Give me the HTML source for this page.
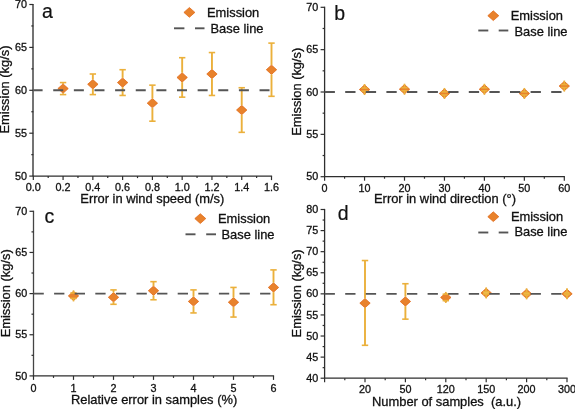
<!DOCTYPE html>
<html><head><meta charset="utf-8"><style>
html,body{margin:0;padding:0;background:#fff;width:575px;height:409px;overflow:hidden}
svg{display:block;font-family:"Liberation Sans", sans-serif;filter:blur(0.3px)}
text{fill:#111;stroke:#111;stroke-width:0.3px}
</style></head><body>
<svg width="575" height="409" viewBox="0 0 575 409">
<rect width="575" height="409" fill="#fff"/>
<line x1="33.00" y1="176.10" x2="33.00" y2="3.90" stroke="#444" stroke-width="1.5"/>
<line x1="32.70" y1="176.10" x2="272.10" y2="176.10" stroke="#2e2e2e" stroke-width="1.3"/>
<line x1="29.30" y1="176.10" x2="33.30" y2="176.10" stroke="#2e2e2e" stroke-width="1.2"/>
<text x="27.00" y="179.70" text-anchor="end" font-size="10.8">50</text>
<line x1="29.30" y1="133.20" x2="33.30" y2="133.20" stroke="#2e2e2e" stroke-width="1.2"/>
<text x="27.00" y="136.80" text-anchor="end" font-size="10.8">55</text>
<line x1="29.30" y1="90.30" x2="33.30" y2="90.30" stroke="#2e2e2e" stroke-width="1.2"/>
<text x="27.00" y="93.90" text-anchor="end" font-size="10.8">60</text>
<line x1="29.30" y1="47.40" x2="33.30" y2="47.40" stroke="#2e2e2e" stroke-width="1.2"/>
<text x="27.00" y="51.00" text-anchor="end" font-size="10.8">65</text>
<line x1="29.30" y1="4.50" x2="33.30" y2="4.50" stroke="#2e2e2e" stroke-width="1.2"/>
<text x="27.00" y="8.10" text-anchor="end" font-size="10.8">70</text>
<line x1="31.30" y1="154.65" x2="33.30" y2="154.65" stroke="#2e2e2e" stroke-width="1.2"/>
<line x1="31.30" y1="111.75" x2="33.30" y2="111.75" stroke="#2e2e2e" stroke-width="1.2"/>
<line x1="31.30" y1="68.85" x2="33.30" y2="68.85" stroke="#2e2e2e" stroke-width="1.2"/>
<line x1="31.30" y1="25.95" x2="33.30" y2="25.95" stroke="#2e2e2e" stroke-width="1.2"/>
<line x1="33.30" y1="176.10" x2="33.30" y2="180.10" stroke="#2e2e2e" stroke-width="1.2"/>
<text x="33.30" y="191.40" text-anchor="middle" font-size="10.8">0.0</text>
<line x1="63.07" y1="176.10" x2="63.07" y2="180.10" stroke="#2e2e2e" stroke-width="1.2"/>
<text x="63.07" y="191.40" text-anchor="middle" font-size="10.8">0.2</text>
<line x1="92.85" y1="176.10" x2="92.85" y2="180.10" stroke="#2e2e2e" stroke-width="1.2"/>
<text x="92.85" y="191.40" text-anchor="middle" font-size="10.8">0.4</text>
<line x1="122.62" y1="176.10" x2="122.62" y2="180.10" stroke="#2e2e2e" stroke-width="1.2"/>
<text x="122.62" y="191.40" text-anchor="middle" font-size="10.8">0.6</text>
<line x1="152.40" y1="176.10" x2="152.40" y2="180.10" stroke="#2e2e2e" stroke-width="1.2"/>
<text x="152.40" y="191.40" text-anchor="middle" font-size="10.8">0.8</text>
<line x1="182.17" y1="176.10" x2="182.17" y2="180.10" stroke="#2e2e2e" stroke-width="1.2"/>
<text x="182.17" y="191.40" text-anchor="middle" font-size="10.8">1.0</text>
<line x1="211.95" y1="176.10" x2="211.95" y2="180.10" stroke="#2e2e2e" stroke-width="1.2"/>
<text x="211.95" y="191.40" text-anchor="middle" font-size="10.8">1.2</text>
<line x1="241.73" y1="176.10" x2="241.73" y2="180.10" stroke="#2e2e2e" stroke-width="1.2"/>
<text x="241.73" y="191.40" text-anchor="middle" font-size="10.8">1.4</text>
<line x1="271.50" y1="176.10" x2="271.50" y2="180.10" stroke="#2e2e2e" stroke-width="1.2"/>
<text x="271.50" y="191.40" text-anchor="middle" font-size="10.8">1.6</text>
<line x1="48.19" y1="176.10" x2="48.19" y2="178.10" stroke="#2e2e2e" stroke-width="1.2"/>
<line x1="77.96" y1="176.10" x2="77.96" y2="178.10" stroke="#2e2e2e" stroke-width="1.2"/>
<line x1="107.74" y1="176.10" x2="107.74" y2="178.10" stroke="#2e2e2e" stroke-width="1.2"/>
<line x1="137.51" y1="176.10" x2="137.51" y2="178.10" stroke="#2e2e2e" stroke-width="1.2"/>
<line x1="167.29" y1="176.10" x2="167.29" y2="178.10" stroke="#2e2e2e" stroke-width="1.2"/>
<line x1="197.06" y1="176.10" x2="197.06" y2="178.10" stroke="#2e2e2e" stroke-width="1.2"/>
<line x1="226.84" y1="176.10" x2="226.84" y2="178.10" stroke="#2e2e2e" stroke-width="1.2"/>
<line x1="256.61" y1="176.10" x2="256.61" y2="178.10" stroke="#2e2e2e" stroke-width="1.2"/>
<path d="M63.07 83.88 L68.27 88.58 L63.07 93.28 L57.87 88.58Z" fill="#e8822c" stroke="#df620e" stroke-width="0.7"/>
<line x1="63.07" y1="82.58" x2="63.07" y2="83.88" stroke="#ebb03b" stroke-width="1.9"/>
<line x1="63.07" y1="93.28" x2="63.07" y2="94.59" stroke="#ebb03b" stroke-width="1.9"/>
<line x1="59.87" y1="82.58" x2="66.27" y2="82.58" stroke="#ebb03b" stroke-width="1.6"/>
<line x1="59.87" y1="94.59" x2="66.27" y2="94.59" stroke="#ebb03b" stroke-width="1.6"/>
<path d="M92.85 79.59 L98.05 84.29 L92.85 88.99 L87.65 84.29Z" fill="#e8822c" stroke="#df620e" stroke-width="0.7"/>
<line x1="92.85" y1="74.00" x2="92.85" y2="79.59" stroke="#ebb03b" stroke-width="1.9"/>
<line x1="92.85" y1="88.99" x2="92.85" y2="94.59" stroke="#ebb03b" stroke-width="1.9"/>
<line x1="89.65" y1="74.00" x2="96.05" y2="74.00" stroke="#ebb03b" stroke-width="1.6"/>
<line x1="89.65" y1="94.59" x2="96.05" y2="94.59" stroke="#ebb03b" stroke-width="1.6"/>
<path d="M122.62 77.88 L127.82 82.58 L122.62 87.28 L117.42 82.58Z" fill="#e8822c" stroke="#df620e" stroke-width="0.7"/>
<line x1="122.62" y1="69.71" x2="122.62" y2="77.88" stroke="#ebb03b" stroke-width="1.9"/>
<line x1="122.62" y1="87.28" x2="122.62" y2="95.45" stroke="#ebb03b" stroke-width="1.9"/>
<line x1="119.42" y1="69.71" x2="125.82" y2="69.71" stroke="#ebb03b" stroke-width="1.6"/>
<line x1="119.42" y1="95.45" x2="125.82" y2="95.45" stroke="#ebb03b" stroke-width="1.6"/>
<path d="M152.40 98.47 L157.60 103.17 L152.40 107.87 L147.20 103.17Z" fill="#e8822c" stroke="#df620e" stroke-width="0.7"/>
<line x1="152.40" y1="85.15" x2="152.40" y2="98.47" stroke="#ebb03b" stroke-width="1.9"/>
<line x1="152.40" y1="107.87" x2="152.40" y2="121.19" stroke="#ebb03b" stroke-width="1.9"/>
<line x1="149.20" y1="85.15" x2="155.60" y2="85.15" stroke="#ebb03b" stroke-width="1.6"/>
<line x1="149.20" y1="121.19" x2="155.60" y2="121.19" stroke="#ebb03b" stroke-width="1.6"/>
<path d="M182.17 72.73 L187.37 77.43 L182.17 82.13 L176.97 77.43Z" fill="#e8822c" stroke="#df620e" stroke-width="0.7"/>
<line x1="182.17" y1="57.70" x2="182.17" y2="72.73" stroke="#ebb03b" stroke-width="1.9"/>
<line x1="182.17" y1="82.13" x2="182.17" y2="97.16" stroke="#ebb03b" stroke-width="1.9"/>
<line x1="178.97" y1="57.70" x2="185.37" y2="57.70" stroke="#ebb03b" stroke-width="1.6"/>
<line x1="178.97" y1="97.16" x2="185.37" y2="97.16" stroke="#ebb03b" stroke-width="1.6"/>
<path d="M211.95 69.30 L217.15 74.00 L211.95 78.70 L206.75 74.00Z" fill="#e8822c" stroke="#df620e" stroke-width="0.7"/>
<line x1="211.95" y1="52.55" x2="211.95" y2="69.30" stroke="#ebb03b" stroke-width="1.9"/>
<line x1="211.95" y1="78.70" x2="211.95" y2="95.45" stroke="#ebb03b" stroke-width="1.9"/>
<line x1="208.75" y1="52.55" x2="215.15" y2="52.55" stroke="#ebb03b" stroke-width="1.6"/>
<line x1="208.75" y1="95.45" x2="215.15" y2="95.45" stroke="#ebb03b" stroke-width="1.6"/>
<path d="M241.72 105.33 L246.92 110.03 L241.72 114.73 L236.52 110.03Z" fill="#e8822c" stroke="#df620e" stroke-width="0.7"/>
<line x1="241.72" y1="87.73" x2="241.72" y2="105.33" stroke="#ebb03b" stroke-width="1.9"/>
<line x1="241.72" y1="114.73" x2="241.72" y2="132.34" stroke="#ebb03b" stroke-width="1.9"/>
<line x1="238.52" y1="87.73" x2="244.92" y2="87.73" stroke="#ebb03b" stroke-width="1.6"/>
<line x1="238.52" y1="132.34" x2="244.92" y2="132.34" stroke="#ebb03b" stroke-width="1.6"/>
<path d="M271.50 65.01 L276.70 69.71 L271.50 74.41 L266.30 69.71Z" fill="#e8822c" stroke="#df620e" stroke-width="0.7"/>
<line x1="271.50" y1="43.11" x2="271.50" y2="65.01" stroke="#ebb03b" stroke-width="1.9"/>
<line x1="271.50" y1="74.41" x2="271.50" y2="96.31" stroke="#ebb03b" stroke-width="1.9"/>
<line x1="268.30" y1="43.11" x2="274.70" y2="43.11" stroke="#ebb03b" stroke-width="1.6"/>
<line x1="268.30" y1="96.31" x2="274.70" y2="96.31" stroke="#ebb03b" stroke-width="1.6"/>
<line x1="33.30" y1="90.30" x2="271.50" y2="90.30" stroke="#555555" stroke-width="1.9" stroke-dasharray="10 10.63" stroke-dashoffset="0.7"/>
<text x="42.0" y="18.3" font-size="19.5" style="stroke-width:0.2px">a</text>
<path d="M189.40 7.50 L194.90 12.40 L189.40 17.30 L183.90 12.40Z" fill="#e8822c" stroke="#df620e" stroke-width="0.7"/>
<text x="207.0" y="17.3" font-size="12.9">Emission</text>
<line x1="174" y1="28.3" x2="184.4" y2="28.3" stroke="#555555" stroke-width="1.9"/>
<line x1="195" y1="28.3" x2="204.5" y2="28.3" stroke="#555555" stroke-width="1.9"/>
<text x="210.5" y="32.7" font-size="12.9">Base line</text>
<text transform="translate(9.1,89.5) rotate(-90)" text-anchor="middle" font-size="12.9">Emission (kg/s)</text>
<text x="80.3" y="202.9" font-size="12.9" xml:space="preserve">Error in wind speed (m/s)</text>
<line x1="324.60" y1="176.70" x2="324.60" y2="6.70" stroke="#2e2e2e" stroke-width="1.3"/>
<line x1="324.00" y1="176.70" x2="564.90" y2="176.70" stroke="#2e2e2e" stroke-width="1.3"/>
<line x1="320.60" y1="176.70" x2="324.60" y2="176.70" stroke="#2e2e2e" stroke-width="1.2"/>
<text x="318.30" y="180.30" text-anchor="end" font-size="10.8">50</text>
<line x1="320.60" y1="134.35" x2="324.60" y2="134.35" stroke="#2e2e2e" stroke-width="1.2"/>
<text x="318.30" y="137.95" text-anchor="end" font-size="10.8">55</text>
<line x1="320.60" y1="92.00" x2="324.60" y2="92.00" stroke="#2e2e2e" stroke-width="1.2"/>
<text x="318.30" y="95.60" text-anchor="end" font-size="10.8">60</text>
<line x1="320.60" y1="49.65" x2="324.60" y2="49.65" stroke="#2e2e2e" stroke-width="1.2"/>
<text x="318.30" y="53.25" text-anchor="end" font-size="10.8">65</text>
<line x1="320.60" y1="7.30" x2="324.60" y2="7.30" stroke="#2e2e2e" stroke-width="1.2"/>
<text x="318.30" y="10.90" text-anchor="end" font-size="10.8">70</text>
<line x1="322.60" y1="155.52" x2="324.60" y2="155.52" stroke="#2e2e2e" stroke-width="1.2"/>
<line x1="322.60" y1="113.17" x2="324.60" y2="113.17" stroke="#2e2e2e" stroke-width="1.2"/>
<line x1="322.60" y1="70.83" x2="324.60" y2="70.83" stroke="#2e2e2e" stroke-width="1.2"/>
<line x1="322.60" y1="28.48" x2="324.60" y2="28.48" stroke="#2e2e2e" stroke-width="1.2"/>
<line x1="324.60" y1="176.70" x2="324.60" y2="180.70" stroke="#2e2e2e" stroke-width="1.2"/>
<text x="324.60" y="192.00" text-anchor="middle" font-size="10.8">0</text>
<line x1="364.55" y1="176.70" x2="364.55" y2="180.70" stroke="#2e2e2e" stroke-width="1.2"/>
<text x="364.55" y="192.00" text-anchor="middle" font-size="10.8">10</text>
<line x1="404.50" y1="176.70" x2="404.50" y2="180.70" stroke="#2e2e2e" stroke-width="1.2"/>
<text x="404.50" y="192.00" text-anchor="middle" font-size="10.8">20</text>
<line x1="444.45" y1="176.70" x2="444.45" y2="180.70" stroke="#2e2e2e" stroke-width="1.2"/>
<text x="444.45" y="192.00" text-anchor="middle" font-size="10.8">30</text>
<line x1="484.40" y1="176.70" x2="484.40" y2="180.70" stroke="#2e2e2e" stroke-width="1.2"/>
<text x="484.40" y="192.00" text-anchor="middle" font-size="10.8">40</text>
<line x1="524.35" y1="176.70" x2="524.35" y2="180.70" stroke="#2e2e2e" stroke-width="1.2"/>
<text x="524.35" y="192.00" text-anchor="middle" font-size="10.8">50</text>
<line x1="564.30" y1="176.70" x2="564.30" y2="180.70" stroke="#2e2e2e" stroke-width="1.2"/>
<text x="564.30" y="192.00" text-anchor="middle" font-size="10.8">60</text>
<line x1="344.57" y1="176.70" x2="344.57" y2="178.70" stroke="#2e2e2e" stroke-width="1.2"/>
<line x1="384.52" y1="176.70" x2="384.52" y2="178.70" stroke="#2e2e2e" stroke-width="1.2"/>
<line x1="424.48" y1="176.70" x2="424.48" y2="178.70" stroke="#2e2e2e" stroke-width="1.2"/>
<line x1="464.42" y1="176.70" x2="464.42" y2="178.70" stroke="#2e2e2e" stroke-width="1.2"/>
<line x1="504.38" y1="176.70" x2="504.38" y2="178.70" stroke="#2e2e2e" stroke-width="1.2"/>
<line x1="544.32" y1="176.70" x2="544.32" y2="178.70" stroke="#2e2e2e" stroke-width="1.2"/>
<path d="M364.55 84.84 L369.75 89.54 L364.55 94.24 L359.35 89.54Z" fill="#e8822c" stroke="#df620e" stroke-width="0.7"/>
<line x1="364.55" y1="84.04" x2="364.55" y2="88.02" stroke="#ebb03b" stroke-width="1.7"/>
<line x1="364.55" y1="95.04" x2="364.55" y2="91.07" stroke="#ebb03b" stroke-width="1.7"/>
<line x1="361.35" y1="88.02" x2="367.75" y2="88.02" stroke="#ebb03b" stroke-width="1.6"/>
<line x1="361.35" y1="91.07" x2="367.75" y2="91.07" stroke="#ebb03b" stroke-width="1.6"/>
<path d="M404.50 84.50 L409.70 89.20 L404.50 93.90 L399.30 89.20Z" fill="#e8822c" stroke="#df620e" stroke-width="0.7"/>
<line x1="404.50" y1="83.70" x2="404.50" y2="87.68" stroke="#ebb03b" stroke-width="1.7"/>
<line x1="404.50" y1="94.70" x2="404.50" y2="90.73" stroke="#ebb03b" stroke-width="1.7"/>
<line x1="401.30" y1="87.68" x2="407.70" y2="87.68" stroke="#ebb03b" stroke-width="1.6"/>
<line x1="401.30" y1="90.73" x2="407.70" y2="90.73" stroke="#ebb03b" stroke-width="1.6"/>
<path d="M444.45 88.74 L449.65 93.44 L444.45 98.14 L439.25 93.44Z" fill="#e8822c" stroke="#df620e" stroke-width="0.7"/>
<line x1="444.45" y1="87.94" x2="444.45" y2="91.92" stroke="#ebb03b" stroke-width="1.7"/>
<line x1="444.45" y1="98.94" x2="444.45" y2="94.96" stroke="#ebb03b" stroke-width="1.7"/>
<line x1="441.25" y1="91.92" x2="447.65" y2="91.92" stroke="#ebb03b" stroke-width="1.6"/>
<line x1="441.25" y1="94.96" x2="447.65" y2="94.96" stroke="#ebb03b" stroke-width="1.6"/>
<path d="M484.40 84.59 L489.60 89.29 L484.40 93.99 L479.20 89.29Z" fill="#e8822c" stroke="#df620e" stroke-width="0.7"/>
<line x1="484.40" y1="83.79" x2="484.40" y2="87.77" stroke="#ebb03b" stroke-width="1.7"/>
<line x1="484.40" y1="94.79" x2="484.40" y2="90.81" stroke="#ebb03b" stroke-width="1.7"/>
<line x1="481.20" y1="87.77" x2="487.60" y2="87.77" stroke="#ebb03b" stroke-width="1.6"/>
<line x1="481.20" y1="90.81" x2="487.60" y2="90.81" stroke="#ebb03b" stroke-width="1.6"/>
<path d="M524.35 88.74 L529.55 93.44 L524.35 98.14 L519.15 93.44Z" fill="#e8822c" stroke="#df620e" stroke-width="0.7"/>
<line x1="524.35" y1="87.94" x2="524.35" y2="91.92" stroke="#ebb03b" stroke-width="1.7"/>
<line x1="524.35" y1="98.94" x2="524.35" y2="94.96" stroke="#ebb03b" stroke-width="1.7"/>
<line x1="521.15" y1="91.92" x2="527.55" y2="91.92" stroke="#ebb03b" stroke-width="1.6"/>
<line x1="521.15" y1="94.96" x2="527.55" y2="94.96" stroke="#ebb03b" stroke-width="1.6"/>
<path d="M564.30 81.37 L569.50 86.07 L564.30 90.77 L559.10 86.07Z" fill="#e8822c" stroke="#df620e" stroke-width="0.7"/>
<line x1="564.30" y1="80.57" x2="564.30" y2="84.55" stroke="#ebb03b" stroke-width="1.7"/>
<line x1="564.30" y1="91.57" x2="564.30" y2="87.60" stroke="#ebb03b" stroke-width="1.7"/>
<line x1="561.10" y1="84.55" x2="567.50" y2="84.55" stroke="#ebb03b" stroke-width="1.6"/>
<line x1="561.10" y1="87.60" x2="567.50" y2="87.60" stroke="#ebb03b" stroke-width="1.6"/>
<line x1="324.60" y1="92.00" x2="564.30" y2="92.00" stroke="#555555" stroke-width="1.9" stroke-dasharray="10.3 10.3" stroke-dashoffset="0"/>
<text x="334.2" y="19.5" font-size="19.5" style="stroke-width:0.2px">b</text>
<path d="M493.30 10.80 L498.80 15.70 L493.30 20.60 L487.80 15.70Z" fill="#e8822c" stroke="#df620e" stroke-width="0.7"/>
<text x="510.7" y="19.9" font-size="12.9">Emission</text>
<line x1="478.3" y1="30.5" x2="488.3" y2="30.5" stroke="#555555" stroke-width="1.9"/>
<line x1="498.7" y1="30.5" x2="508.3" y2="30.5" stroke="#555555" stroke-width="1.9"/>
<text x="514.5" y="35.6" font-size="12.9">Base line</text>
<text transform="translate(301.2,91.7) rotate(-90)" text-anchor="middle" font-size="12.9">Emission (kg/s)</text>
<text x="374.0" y="203.0" font-size="12.9" xml:space="preserve">Error in wind direction (°)</text>
<line x1="33.50" y1="375.90" x2="33.50" y2="210.70" stroke="#444" stroke-width="1.3"/>
<line x1="32.90" y1="375.90" x2="274.10" y2="375.90" stroke="#2e2e2e" stroke-width="1.3"/>
<line x1="29.50" y1="375.90" x2="33.50" y2="375.90" stroke="#2e2e2e" stroke-width="1.2"/>
<text x="27.20" y="379.50" text-anchor="end" font-size="10.8">50</text>
<line x1="29.50" y1="334.75" x2="33.50" y2="334.75" stroke="#2e2e2e" stroke-width="1.2"/>
<text x="27.20" y="338.35" text-anchor="end" font-size="10.8">55</text>
<line x1="29.50" y1="293.60" x2="33.50" y2="293.60" stroke="#2e2e2e" stroke-width="1.2"/>
<text x="27.20" y="297.20" text-anchor="end" font-size="10.8">60</text>
<line x1="29.50" y1="252.45" x2="33.50" y2="252.45" stroke="#2e2e2e" stroke-width="1.2"/>
<text x="27.20" y="256.05" text-anchor="end" font-size="10.8">65</text>
<line x1="29.50" y1="211.30" x2="33.50" y2="211.30" stroke="#2e2e2e" stroke-width="1.2"/>
<text x="27.20" y="214.90" text-anchor="end" font-size="10.8">70</text>
<line x1="31.50" y1="355.32" x2="33.50" y2="355.32" stroke="#2e2e2e" stroke-width="1.2"/>
<line x1="31.50" y1="314.18" x2="33.50" y2="314.18" stroke="#2e2e2e" stroke-width="1.2"/>
<line x1="31.50" y1="273.02" x2="33.50" y2="273.02" stroke="#2e2e2e" stroke-width="1.2"/>
<line x1="31.50" y1="231.88" x2="33.50" y2="231.88" stroke="#2e2e2e" stroke-width="1.2"/>
<line x1="33.50" y1="375.90" x2="33.50" y2="379.90" stroke="#2e2e2e" stroke-width="1.2"/>
<text x="33.50" y="391.50" text-anchor="middle" font-size="10.8">0</text>
<line x1="73.50" y1="375.90" x2="73.50" y2="379.90" stroke="#2e2e2e" stroke-width="1.2"/>
<text x="73.50" y="391.50" text-anchor="middle" font-size="10.8">1</text>
<line x1="113.50" y1="375.90" x2="113.50" y2="379.90" stroke="#2e2e2e" stroke-width="1.2"/>
<text x="113.50" y="391.50" text-anchor="middle" font-size="10.8">2</text>
<line x1="153.50" y1="375.90" x2="153.50" y2="379.90" stroke="#2e2e2e" stroke-width="1.2"/>
<text x="153.50" y="391.50" text-anchor="middle" font-size="10.8">3</text>
<line x1="193.50" y1="375.90" x2="193.50" y2="379.90" stroke="#2e2e2e" stroke-width="1.2"/>
<text x="193.50" y="391.50" text-anchor="middle" font-size="10.8">4</text>
<line x1="233.50" y1="375.90" x2="233.50" y2="379.90" stroke="#2e2e2e" stroke-width="1.2"/>
<text x="233.50" y="391.50" text-anchor="middle" font-size="10.8">5</text>
<line x1="273.50" y1="375.90" x2="273.50" y2="379.90" stroke="#2e2e2e" stroke-width="1.2"/>
<text x="273.50" y="391.50" text-anchor="middle" font-size="10.8">6</text>
<line x1="53.50" y1="375.90" x2="53.50" y2="377.90" stroke="#2e2e2e" stroke-width="1.2"/>
<line x1="93.50" y1="375.90" x2="93.50" y2="377.90" stroke="#2e2e2e" stroke-width="1.2"/>
<line x1="133.50" y1="375.90" x2="133.50" y2="377.90" stroke="#2e2e2e" stroke-width="1.2"/>
<line x1="173.50" y1="375.90" x2="173.50" y2="377.90" stroke="#2e2e2e" stroke-width="1.2"/>
<line x1="213.50" y1="375.90" x2="213.50" y2="377.90" stroke="#2e2e2e" stroke-width="1.2"/>
<line x1="253.50" y1="375.90" x2="253.50" y2="377.90" stroke="#2e2e2e" stroke-width="1.2"/>
<path d="M73.50 291.20 L78.70 295.90 L73.50 300.60 L68.30 295.90Z" fill="#e8822c" stroke="#df620e" stroke-width="0.7"/>
<line x1="73.50" y1="290.40" x2="73.50" y2="293.02" stroke="#ebb03b" stroke-width="1.7"/>
<line x1="73.50" y1="301.40" x2="73.50" y2="298.37" stroke="#ebb03b" stroke-width="1.7"/>
<line x1="70.30" y1="293.02" x2="76.70" y2="293.02" stroke="#ebb03b" stroke-width="1.6"/>
<line x1="70.30" y1="298.37" x2="76.70" y2="298.37" stroke="#ebb03b" stroke-width="1.6"/>
<path d="M113.50 292.60 L118.70 297.30 L113.50 302.00 L108.30 297.30Z" fill="#e8822c" stroke="#df620e" stroke-width="0.7"/>
<line x1="113.50" y1="289.90" x2="113.50" y2="292.60" stroke="#ebb03b" stroke-width="1.9"/>
<line x1="113.50" y1="302.00" x2="113.50" y2="304.30" stroke="#ebb03b" stroke-width="1.9"/>
<line x1="110.30" y1="289.90" x2="116.70" y2="289.90" stroke="#ebb03b" stroke-width="1.6"/>
<line x1="110.30" y1="304.30" x2="116.70" y2="304.30" stroke="#ebb03b" stroke-width="1.6"/>
<path d="M153.50 286.02 L158.70 290.72 L153.50 295.42 L148.30 290.72Z" fill="#e8822c" stroke="#df620e" stroke-width="0.7"/>
<line x1="153.50" y1="281.67" x2="153.50" y2="286.02" stroke="#ebb03b" stroke-width="1.9"/>
<line x1="153.50" y1="295.42" x2="153.50" y2="299.77" stroke="#ebb03b" stroke-width="1.9"/>
<line x1="150.30" y1="281.67" x2="156.70" y2="281.67" stroke="#ebb03b" stroke-width="1.6"/>
<line x1="150.30" y1="299.77" x2="156.70" y2="299.77" stroke="#ebb03b" stroke-width="1.6"/>
<path d="M193.50 296.72 L198.70 301.42 L193.50 306.12 L188.30 301.42Z" fill="#e8822c" stroke="#df620e" stroke-width="0.7"/>
<line x1="193.50" y1="289.90" x2="193.50" y2="296.72" stroke="#ebb03b" stroke-width="1.9"/>
<line x1="193.50" y1="306.12" x2="193.50" y2="312.94" stroke="#ebb03b" stroke-width="1.9"/>
<line x1="190.30" y1="289.90" x2="196.70" y2="289.90" stroke="#ebb03b" stroke-width="1.6"/>
<line x1="190.30" y1="312.94" x2="196.70" y2="312.94" stroke="#ebb03b" stroke-width="1.6"/>
<path d="M233.50 297.54 L238.70 302.24 L233.50 306.94 L228.30 302.24Z" fill="#e8822c" stroke="#df620e" stroke-width="0.7"/>
<line x1="233.50" y1="287.43" x2="233.50" y2="297.54" stroke="#ebb03b" stroke-width="1.9"/>
<line x1="233.50" y1="306.94" x2="233.50" y2="317.06" stroke="#ebb03b" stroke-width="1.9"/>
<line x1="230.30" y1="287.43" x2="236.70" y2="287.43" stroke="#ebb03b" stroke-width="1.6"/>
<line x1="230.30" y1="317.06" x2="236.70" y2="317.06" stroke="#ebb03b" stroke-width="1.6"/>
<path d="M273.50 282.73 L278.70 287.43 L273.50 292.13 L268.30 287.43Z" fill="#e8822c" stroke="#df620e" stroke-width="0.7"/>
<line x1="273.50" y1="269.90" x2="273.50" y2="282.73" stroke="#ebb03b" stroke-width="1.9"/>
<line x1="273.50" y1="292.13" x2="273.50" y2="304.71" stroke="#ebb03b" stroke-width="1.9"/>
<line x1="270.30" y1="269.90" x2="276.70" y2="269.90" stroke="#ebb03b" stroke-width="1.6"/>
<line x1="270.30" y1="304.71" x2="276.70" y2="304.71" stroke="#ebb03b" stroke-width="1.6"/>
<line x1="33.50" y1="293.60" x2="273.50" y2="293.60" stroke="#555555" stroke-width="1.9" stroke-dasharray="10.3 10.3" stroke-dashoffset="0"/>
<text x="44.5" y="223.0" font-size="19.5" style="stroke-width:0.2px">c</text>
<path d="M200.30 213.70 L205.80 218.60 L200.30 223.50 L194.80 218.60Z" fill="#e8822c" stroke="#df620e" stroke-width="0.7"/>
<text x="218.0" y="223.3" font-size="12.9">Emission</text>
<line x1="185.5" y1="234.3" x2="195.5" y2="234.3" stroke="#555555" stroke-width="1.9"/>
<line x1="206.2" y1="234.3" x2="216" y2="234.3" stroke="#555555" stroke-width="1.9"/>
<text x="221.5" y="238.7" font-size="12.9">Base line</text>
<text transform="translate(9.6,293.3) rotate(-90)" text-anchor="middle" font-size="12.9">Emission (kg/s)</text>
<text x="71.0" y="404.0" font-size="12.9" xml:space="preserve">Relative error in samples (%)</text>
<line x1="324.60" y1="378.20" x2="324.60" y2="208.90" stroke="#2e2e2e" stroke-width="1.3"/>
<line x1="324.00" y1="378.20" x2="567.60" y2="378.20" stroke="#2e2e2e" stroke-width="1.3"/>
<line x1="320.60" y1="378.20" x2="324.60" y2="378.20" stroke="#2e2e2e" stroke-width="1.2"/>
<text x="318.30" y="381.80" text-anchor="end" font-size="10.8">40</text>
<line x1="320.60" y1="357.11" x2="324.60" y2="357.11" stroke="#2e2e2e" stroke-width="1.2"/>
<text x="318.30" y="360.71" text-anchor="end" font-size="10.8">45</text>
<line x1="320.60" y1="336.02" x2="324.60" y2="336.02" stroke="#2e2e2e" stroke-width="1.2"/>
<text x="318.30" y="339.62" text-anchor="end" font-size="10.8">50</text>
<line x1="320.60" y1="314.94" x2="324.60" y2="314.94" stroke="#2e2e2e" stroke-width="1.2"/>
<text x="318.30" y="318.54" text-anchor="end" font-size="10.8">55</text>
<line x1="320.60" y1="293.85" x2="324.60" y2="293.85" stroke="#2e2e2e" stroke-width="1.2"/>
<text x="318.30" y="297.45" text-anchor="end" font-size="10.8">60</text>
<line x1="320.60" y1="272.76" x2="324.60" y2="272.76" stroke="#2e2e2e" stroke-width="1.2"/>
<text x="318.30" y="276.36" text-anchor="end" font-size="10.8">65</text>
<line x1="320.60" y1="251.67" x2="324.60" y2="251.67" stroke="#2e2e2e" stroke-width="1.2"/>
<text x="318.30" y="255.27" text-anchor="end" font-size="10.8">70</text>
<line x1="320.60" y1="230.59" x2="324.60" y2="230.59" stroke="#2e2e2e" stroke-width="1.2"/>
<text x="318.30" y="234.19" text-anchor="end" font-size="10.8">75</text>
<line x1="320.60" y1="209.50" x2="324.60" y2="209.50" stroke="#2e2e2e" stroke-width="1.2"/>
<text x="318.30" y="213.10" text-anchor="end" font-size="10.8">80</text>
<line x1="322.60" y1="367.66" x2="324.60" y2="367.66" stroke="#2e2e2e" stroke-width="1.2"/>
<line x1="322.60" y1="346.57" x2="324.60" y2="346.57" stroke="#2e2e2e" stroke-width="1.2"/>
<line x1="322.60" y1="325.48" x2="324.60" y2="325.48" stroke="#2e2e2e" stroke-width="1.2"/>
<line x1="322.60" y1="304.39" x2="324.60" y2="304.39" stroke="#2e2e2e" stroke-width="1.2"/>
<line x1="322.60" y1="283.31" x2="324.60" y2="283.31" stroke="#2e2e2e" stroke-width="1.2"/>
<line x1="322.60" y1="262.22" x2="324.60" y2="262.22" stroke="#2e2e2e" stroke-width="1.2"/>
<line x1="322.60" y1="241.13" x2="324.60" y2="241.13" stroke="#2e2e2e" stroke-width="1.2"/>
<line x1="322.60" y1="220.04" x2="324.60" y2="220.04" stroke="#2e2e2e" stroke-width="1.2"/>
<line x1="324.60" y1="378.20" x2="324.60" y2="382.20" stroke="#2e2e2e" stroke-width="1.2"/>
<line x1="365.00" y1="378.20" x2="365.00" y2="382.20" stroke="#2e2e2e" stroke-width="1.2"/>
<text x="365.00" y="392.70" text-anchor="middle" font-size="10.8">20</text>
<line x1="405.40" y1="378.20" x2="405.40" y2="382.20" stroke="#2e2e2e" stroke-width="1.2"/>
<text x="405.40" y="392.70" text-anchor="middle" font-size="10.8">50</text>
<line x1="445.80" y1="378.20" x2="445.80" y2="382.20" stroke="#2e2e2e" stroke-width="1.2"/>
<text x="445.80" y="392.70" text-anchor="middle" font-size="10.8">120</text>
<line x1="486.20" y1="378.20" x2="486.20" y2="382.20" stroke="#2e2e2e" stroke-width="1.2"/>
<text x="486.20" y="392.70" text-anchor="middle" font-size="10.8">150</text>
<line x1="526.60" y1="378.20" x2="526.60" y2="382.20" stroke="#2e2e2e" stroke-width="1.2"/>
<text x="526.60" y="392.70" text-anchor="middle" font-size="10.8">200</text>
<line x1="567.00" y1="378.20" x2="567.00" y2="382.20" stroke="#2e2e2e" stroke-width="1.2"/>
<text x="567.00" y="392.70" text-anchor="middle" font-size="10.8">300</text>
<line x1="344.80" y1="378.20" x2="344.80" y2="380.20" stroke="#2e2e2e" stroke-width="1.2"/>
<line x1="385.20" y1="378.20" x2="385.20" y2="380.20" stroke="#2e2e2e" stroke-width="1.2"/>
<line x1="425.60" y1="378.20" x2="425.60" y2="380.20" stroke="#2e2e2e" stroke-width="1.2"/>
<line x1="466.00" y1="378.20" x2="466.00" y2="380.20" stroke="#2e2e2e" stroke-width="1.2"/>
<line x1="506.40" y1="378.20" x2="506.40" y2="380.20" stroke="#2e2e2e" stroke-width="1.2"/>
<line x1="546.80" y1="378.20" x2="546.80" y2="380.20" stroke="#2e2e2e" stroke-width="1.2"/>
<path d="M365.00 298.43 L370.20 303.13 L365.00 307.83 L359.80 303.13Z" fill="#e8822c" stroke="#df620e" stroke-width="0.7"/>
<line x1="365.00" y1="260.53" x2="365.00" y2="298.43" stroke="#ebb03b" stroke-width="1.9"/>
<line x1="365.00" y1="307.83" x2="365.00" y2="345.30" stroke="#ebb03b" stroke-width="1.9"/>
<line x1="361.80" y1="260.53" x2="368.20" y2="260.53" stroke="#ebb03b" stroke-width="1.6"/>
<line x1="361.80" y1="345.30" x2="368.20" y2="345.30" stroke="#ebb03b" stroke-width="1.6"/>
<path d="M405.40 296.74 L410.60 301.44 L405.40 306.14 L400.20 301.44Z" fill="#e8822c" stroke="#df620e" stroke-width="0.7"/>
<line x1="405.40" y1="283.73" x2="405.40" y2="296.74" stroke="#ebb03b" stroke-width="1.9"/>
<line x1="405.40" y1="306.14" x2="405.40" y2="319.15" stroke="#ebb03b" stroke-width="1.9"/>
<line x1="402.20" y1="283.73" x2="408.60" y2="283.73" stroke="#ebb03b" stroke-width="1.6"/>
<line x1="402.20" y1="319.15" x2="408.60" y2="319.15" stroke="#ebb03b" stroke-width="1.6"/>
<path d="M445.80 292.73 L451.00 297.43 L445.80 302.13 L440.60 297.43Z" fill="#e8822c" stroke="#df620e" stroke-width="0.7"/>
<line x1="445.80" y1="291.93" x2="445.80" y2="294.23" stroke="#ebb03b" stroke-width="1.7"/>
<line x1="445.80" y1="302.93" x2="445.80" y2="300.64" stroke="#ebb03b" stroke-width="1.7"/>
<line x1="442.60" y1="294.23" x2="449.00" y2="294.23" stroke="#ebb03b" stroke-width="1.6"/>
<line x1="442.60" y1="300.64" x2="449.00" y2="300.64" stroke="#ebb03b" stroke-width="1.6"/>
<path d="M486.20 288.22 L491.40 292.92 L486.20 297.62 L481.00 292.92Z" fill="#e8822c" stroke="#df620e" stroke-width="0.7"/>
<path d="M486.20 290.01 L489.42 292.92 L486.20 295.84 L482.98 292.92Z" fill="#f4cd6c"/>
<line x1="486.20" y1="287.42" x2="486.20" y2="291.78" stroke="#ebb03b" stroke-width="1.7"/>
<line x1="486.20" y1="298.42" x2="486.20" y2="294.06" stroke="#ebb03b" stroke-width="1.7"/>
<line x1="483.00" y1="291.78" x2="489.40" y2="291.78" stroke="#ebb03b" stroke-width="1.6"/>
<line x1="483.00" y1="294.06" x2="489.40" y2="294.06" stroke="#ebb03b" stroke-width="1.6"/>
<path d="M526.60 289.15 L531.80 293.85 L526.60 298.55 L521.40 293.85Z" fill="#e8822c" stroke="#df620e" stroke-width="0.7"/>
<path d="M526.60 290.94 L529.82 293.85 L526.60 296.76 L523.38 293.85Z" fill="#f4cd6c"/>
<line x1="526.60" y1="288.35" x2="526.60" y2="292.92" stroke="#ebb03b" stroke-width="1.7"/>
<line x1="526.60" y1="299.35" x2="526.60" y2="294.78" stroke="#ebb03b" stroke-width="1.7"/>
<line x1="523.40" y1="292.92" x2="529.80" y2="292.92" stroke="#ebb03b" stroke-width="1.6"/>
<line x1="523.40" y1="294.78" x2="529.80" y2="294.78" stroke="#ebb03b" stroke-width="1.6"/>
<path d="M567.00 289.15 L572.20 293.85 L567.00 298.55 L561.80 293.85Z" fill="#e8822c" stroke="#df620e" stroke-width="0.7"/>
<path d="M567.00 290.94 L570.22 293.85 L567.00 296.76 L563.78 293.85Z" fill="#f4cd6c"/>
<line x1="567.00" y1="288.35" x2="567.00" y2="293.30" stroke="#ebb03b" stroke-width="1.7"/>
<line x1="567.00" y1="299.35" x2="567.00" y2="294.40" stroke="#ebb03b" stroke-width="1.7"/>
<line x1="563.80" y1="293.30" x2="570.20" y2="293.30" stroke="#ebb03b" stroke-width="1.6"/>
<line x1="563.80" y1="294.40" x2="570.20" y2="294.40" stroke="#ebb03b" stroke-width="1.6"/>
<line x1="324.60" y1="293.85" x2="567.00" y2="293.85" stroke="#555555" stroke-width="1.9" stroke-dasharray="10.3 10.3" stroke-dashoffset="0"/>
<text x="337.7" y="220.4" font-size="19.5" style="stroke-width:0.2px">d</text>
<path d="M493.30 211.80 L498.80 216.70 L493.30 221.60 L487.80 216.70Z" fill="#e8822c" stroke="#df620e" stroke-width="0.7"/>
<text x="510.9" y="221.4" font-size="12.9">Emission</text>
<line x1="478.3" y1="232.5" x2="488.3" y2="232.5" stroke="#555555" stroke-width="1.9"/>
<line x1="498.7" y1="232.5" x2="508.3" y2="232.5" stroke="#555555" stroke-width="1.9"/>
<text x="514.4" y="236.4" font-size="12.9">Base line</text>
<text transform="translate(301.2,293.4) rotate(-90)" text-anchor="middle" font-size="12.9">Emission (kg/s)</text>
<text x="372.0" y="406.3" font-size="12.9" xml:space="preserve">Number of samples  (a.u.)</text>
</svg></body></html>
